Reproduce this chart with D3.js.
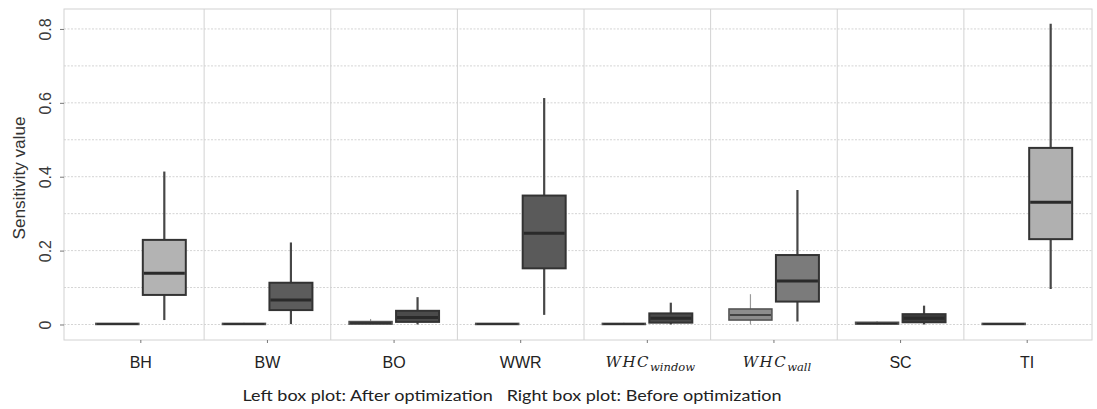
<!DOCTYPE html>
<html><head><meta charset="utf-8">
<script src="https://cdn.jsdelivr.net/npm/d3@7"></script>
<style>body{margin:0;background:#fff}svg{display:block}</style>
</head><body>
<svg id="c" width="1097" height="409"></svg>
<script>
// ---- data ----
const categories = ["BH","BW","BO","WWR","WHC_window","WHC_wall","SC","TI"];
const labelBase = ["BH","BW","BO","WWR","WHC","WHC","SC","TI"];
const labelSub  = ["","","","","window","wall","",""];
const groups = ["after","before"];
// [min, q1, median, q3, max]
const afterStats = [
  [0, 0, 0.001, 0.003, 0.004],
  [0, 0, 0.001, 0.003, 0.005],
  [0, 0.001, 0.004, 0.008, 0.015],
  [0, 0, 0.001, 0.003, 0.004],
  [0, 0, 0.001, 0.003, 0.005],
  [0, 0.012, 0.026, 0.042, 0.082],
  [0, 0.001, 0.003, 0.006, 0.009],
  [0, 0, 0.001, 0.003, 0.004]
];
const beforeStats = [
  [0.012, 0.080, 0.139, 0.229, 0.414],
  [0.001, 0.039, 0.066, 0.113, 0.222],
  [0, 0.007, 0.019, 0.037, 0.074],
  [0.026, 0.152, 0.247, 0.349, 0.613],
  [0, 0.005, 0.017, 0.030, 0.059],
  [0.008, 0.062, 0.118, 0.188, 0.364],
  [0, 0.006, 0.017, 0.028, 0.051],
  [0.096, 0.231, 0.331, 0.478, 0.814]
];
const afterFill  = ["#8a8a8a","#8a8a8a","#555555","#7a7a7a","#8a8a8a","#8c8c8c","#777777","#8a8a8a"];
const beforeFill = ["#b3b3b3","#5c5c5c","#4b4b4b","#5a5a5a","#4a4a4a","#7b7b7b","#3d3d3d","#b0b0b0"];
const yTicks = [0, 0.2, 0.4, 0.6, 0.8];
const yTickLabels = ["0","0.2","0.4","0.6","0.8"];
const yMinor = [0.1, 0.3, 0.5, 0.7];
const yTitle = "Sensitivity value";
const caption = "Left box plot: After optimization   Right box plot: Before optimization";

// ---- layout ----
const svg = d3.select("#c");
const frame = {l:64, r:1092, t:9, b:340};
const y = d3.scaleLinear().domain([-0.042, 0.854]).range([frame.b, frame.t]);
const x = d3.scaleBand().domain(categories).range([77.5, 1090.5]).padding(0);
const xs = d3.scaleBand().domain(groups).range([0, x.bandwidth()]).paddingInner(0.085).paddingOuter(0.39);

const grid = svg.append("g");
grid.selectAll("line.h").data(yTicks.concat(yMinor)).join("line")
  .attr("x1", frame.l).attr("x2", frame.r)
  .attr("y1", d => y(d)).attr("y2", d => y(d))
  .attr("stroke", "#d4d4d4").attr("stroke-width", 1).attr("stroke-dasharray", "2,1.5");
grid.selectAll("line.v").data(categories.slice(1)).join("line")
  .attr("x1", d => x(d)).attr("x2", d => x(d))
  .attr("y1", frame.t).attr("y2", frame.b)
  .attr("stroke", "#d2d2d2").attr("stroke-width", 1);
grid.append("rect").attr("x", frame.l).attr("y", frame.t)
  .attr("width", frame.r - frame.l).attr("height", frame.b - frame.t)
  .attr("fill", "none").attr("stroke", "#d2d2d2").attr("stroke-width", 1);

// y axis
const yAxis = d3.axisLeft(y).tickValues(yTicks).tickFormat((d,i) => yTickLabels[i]).tickSize(4).tickPadding(12);
const ya = svg.append("g").attr("transform", `translate(${frame.l},0)`).call(yAxis);
ya.select(".domain").remove();
ya.selectAll(".tick line").attr("stroke", "#777");
ya.selectAll(".tick text")
  .attr("font-family", "Liberation Sans, Arial, sans-serif").attr("font-size", 16).attr("fill", "#3a3a3a")
  .attr("text-anchor", "middle").attr("x", null)
  .attr("transform", "translate(-19,0) rotate(-90)").attr("dy", "0.35em");

svg.append("text").attr("transform", `translate(19,178) rotate(-90)`)
  .attr("text-anchor", "middle").attr("dy", "0.35em")
  .attr("font-family", "Liberation Sans, Arial, sans-serif").attr("font-size", 16).attr("fill", "#333")
  .attr("textLength", 123).attr("lengthAdjust", "spacingAndGlyphs")
  .text(yTitle);

// x axis ticks
const xAxis = d3.axisBottom(x).tickSize(3).tickFormat("");
const xa = svg.append("g").attr("transform", `translate(0,${frame.b})`).call(xAxis);
xa.select(".domain").remove();
xa.selectAll(".tick line").attr("stroke", "#777");

// x labels
const lab = svg.append("g");
categories.forEach((c, i) => {
  const cx = x(c) + x.bandwidth()/2;
  if (!labelSub[i]) {
    lab.append("text").attr("x", cx).attr("y", 368).attr("text-anchor", "middle")
      .attr("font-family", "Liberation Sans, Arial, sans-serif").attr("font-size", 16).attr("fill", "#222")
      .text(labelBase[i]);
  } else {
    const t = lab.append("text").attr("y", 367)
      .attr("font-family", "'DejaVu Serif', 'Liberation Serif', serif").attr("font-style", "italic").attr("fill", "#222");
    t.append("tspan").attr("font-size", 15).attr("letter-spacing", 1.5).text(labelBase[i]);
    t.append("tspan").attr("font-size", 11.5).attr("dy", 3.5).text(labelSub[i]);
    const w = t.node().getComputedTextLength();
    t.attr("x", cx + 3 - w/2);
  }
});

// caption
svg.append("text").attr("x", 512).attr("y", 401).attr("text-anchor", "middle")
  .attr("font-family", "Lato, 'Open Sans', sans-serif").attr("font-size", 16).attr("fill", "#222")
  .attr("textLength", 539).attr("lengthAdjust", "spacingAndGlyphs")
  .style("white-space", "pre")
  .text(caption);

// boxes
function drawBoxes(stats, fills, grp, whiskerColor, whiskerW, boxStroke, boxW) {
  const g = svg.append("g");
  categories.forEach((c, i) => {
    const s = stats[i];
    const x0 = x(c) + xs(grp), w = xs.bandwidth(), xc = x0 + w/2;
    g.append("line").attr("x1", xc).attr("x2", xc).attr("y1", y(s[0])).attr("y2", y(s[4]))
      .attr("stroke", whiskerColor).attr("stroke-width", whiskerW);
    const top = y(s[3]), bot = y(s[1]);
    g.append("rect").attr("x", x0).attr("y", top).attr("width", w).attr("height", Math.max(bot - top, 1))
      .attr("fill", fills[i]).attr("stroke", boxStroke).attr("stroke-width", boxW);
    g.append("line").attr("x1", x0 + 1).attr("x2", x0 + w - 1).attr("y1", y(s[2])).attr("y2", y(s[2]))
      .attr("stroke", "#2a2a2a").attr("stroke-width", grp === "after" ? 1.5 : 3);
  });
}
drawBoxes(afterStats, afterFill, "after", "#9a9a9a", 1.2, "#505050", 1.5);
drawBoxes(beforeStats, beforeFill, "before", "#474747", 2.2, "#333", 2);
</script>
</body></html>
